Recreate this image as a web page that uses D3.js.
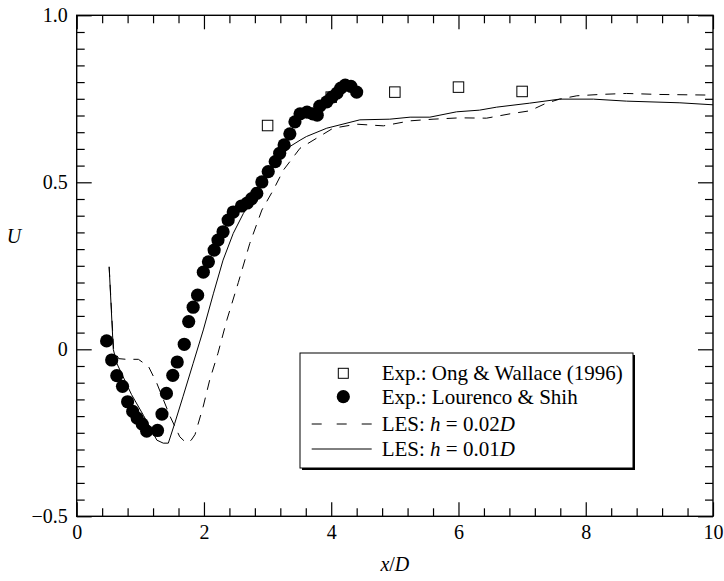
<!DOCTYPE html>
<html>
<head>
<meta charset="utf-8">
<script src="https://cdn.jsdelivr.net/npm/d3@7"></script>
<style>
  html, body { margin: 0; padding: 0; background: #fff; }
  svg { display: block; }
  text { font-family: "Liberation Serif", "Times New Roman", serif; fill: #000; }
</style>
</head>
<body>
<svg id="chart" width="724" height="581"></svg>
<script>
// Streamwise velocity U along the centreline, x/D behind the cylinder

// Exp.: Ong & Wallace (1996)
const ongX = [3, 4, 5, 6, 7];
const ongU = [0.67, 0.755, 0.77, 0.785, 0.772];

// Exp.: Lourenco & Shih
const louX = [0.47, 0.55, 0.63, 0.72, 0.80, 0.88, 0.95, 1.03, 1.10, 1.27, 1.34, 1.41, 1.51, 1.58,
              1.69, 1.76, 1.83, 1.90, 1.99, 2.07, 2.16, 2.22, 2.30, 2.38, 2.46, 2.59, 2.68, 2.75,
              2.83, 2.91, 3.01, 3.12, 3.19, 3.26, 3.35, 3.43, 3.51, 3.62, 3.71, 3.78, 3.82, 3.93,
              4.01, 4.09, 4.15, 4.22, 4.31, 4.40];
const louU = [0.025, -0.032, -0.079, -0.111, -0.157, -0.186, -0.206, -0.224, -0.245, -0.243, -0.194, -0.132, -0.078, -0.038,
              0.015, 0.083, 0.126, 0.162, 0.231, 0.262, 0.297, 0.327, 0.352, 0.387, 0.411, 0.429, 0.438, 0.451,
              0.467, 0.501, 0.532, 0.562, 0.587, 0.612, 0.645, 0.681, 0.705, 0.710, 0.705, 0.701, 0.728, 0.741,
              0.755, 0.767, 0.782, 0.791, 0.787, 0.770];

// LES: h = 0.02D
const les02X = [0.51, 0.58, 0.66, 0.78, 0.97, 1.13, 1.26, 1.47, 1.62, 1.72, 1.80, 1.86, 1.99, 2.09, 2.22,
                2.36, 2.54, 2.72, 2.91, 3.09, 3.25, 3.43, 3.51, 4.03, 4.40, 4.82, 5.24, 5.60, 6.02, 6.44,
                6.81, 7.12, 7.38, 7.59, 7.86, 8.22, 8.64, 9.16, 10.0];
const les02U = [0.247, 0.0, -0.028, -0.03, -0.03, -0.052, -0.102, -0.202, -0.262, -0.28, -0.272, -0.255, -0.17, -0.092, -0.012,
                0.088, 0.20, 0.317, 0.417, 0.477, 0.537, 0.582, 0.602, 0.662, 0.674, 0.669, 0.684, 0.689, 0.693, 0.692,
                0.705, 0.714, 0.737, 0.749, 0.759, 0.763, 0.766, 0.763, 0.761];

// LES: h = 0.01D
const les01X = [0.51, 0.575, 0.63, 0.86, 1.05, 1.26, 1.36, 1.44, 1.54, 1.67, 1.83, 1.99, 2.15, 2.30, 2.46,
                2.62, 2.80, 3.00, 3.20, 3.35, 3.51, 3.61, 3.93, 4.45, 4.92, 5.24, 5.55, 5.97, 6.33, 6.60,
                7.12, 7.59, 8.12, 8.64, 9.48, 10.0];
const les01U = [0.247, 0.0, -0.042, -0.135, -0.198, -0.272, -0.281, -0.281, -0.222, -0.142, -0.042, 0.058, 0.168, 0.267, 0.347,
                0.407, 0.46, 0.52, 0.575, 0.607, 0.626, 0.637, 0.662, 0.687, 0.689, 0.695, 0.695, 0.711, 0.716, 0.725,
                0.737, 0.749, 0.749, 0.743, 0.738, 0.732];

const xMajor = [0, 2, 4, 6, 8, 10];
const xMajorLabels = ["0", "2", "4", "6", "8", "10"];
const yMajor = [-0.5, 0, 0.5, 1.0];
const yMajorLabels = ["\u22120.5", "0", "0.5", "1.0"];

const legendItems = [
  { kind: "square", parts: [["Exp.: Ong & Wallace (1996)", false]] },
  { kind: "circle", parts: [["Exp.: Lourenco & Shih", false]] },
  { kind: "dash",   parts: [["LES: ", false], ["h", true], [" = 0.02", false], ["D", true]] },
  { kind: "solid",  parts: [["LES: ", false], ["h", true], [" = 0.01", false], ["D", true]] }
];

const svg = d3.select("#chart");
const plotL = 76.7, plotR = 713, plotT = 15.3, plotB = 516.3;
const x = d3.scaleLinear().domain([0, 10]).range([plotL, plotR]);
const y = d3.scaleLinear().domain([-0.5, 1.0]).range([plotB, plotT]);

const xMinor = d3.range(0, 10.001, 0.4).filter(v => !xMajor.some(m => Math.abs(m - v) < 1e-6));
const yMinor = d3.range(-0.5, 1.0001, 0.05).filter(v => !yMajor.some(m => Math.abs(m - v) < 1e-6));

function styleAxis(g) {
  g.select(".domain").remove();
  g.selectAll(".tick line").attr("stroke", "#000").attr("stroke-width", 1.2);
  g.selectAll(".tick text").style("font-size", "20px").style("font-family", "'Liberation Serif', serif");
}

// bottom / top axes
svg.append("g").attr("transform", `translate(0,${plotB})`)
  .call(d3.axisBottom(x).tickValues(xMajor).tickFormat((d, i) => xMajorLabels[i]).tickSize(-14).tickPadding(9))
  .call(styleAxis);
svg.append("g").attr("transform", `translate(0,${plotB})`)
  .call(d3.axisBottom(x).tickValues(xMinor).tickFormat("").tickSize(-8))
  .call(styleAxis);
svg.append("g").attr("transform", `translate(0,${plotT})`)
  .call(d3.axisTop(x).tickValues(xMajor).tickFormat("").tickSize(-14))
  .call(styleAxis);
svg.append("g").attr("transform", `translate(0,${plotT})`)
  .call(d3.axisTop(x).tickValues(xMinor).tickFormat("").tickSize(-8))
  .call(styleAxis);

// left / right axes
svg.append("g").attr("transform", `translate(${plotL},0)`)
  .call(d3.axisLeft(y).tickValues(yMajor).tickFormat((d, i) => yMajorLabels[i]).tickSize(-15).tickPadding(9))
  .call(styleAxis);
svg.append("g").attr("transform", `translate(${plotL},0)`)
  .call(d3.axisLeft(y).tickValues(yMinor).tickFormat("").tickSize(-8))
  .call(styleAxis);
svg.append("g").attr("transform", `translate(${plotR},0)`)
  .call(d3.axisRight(y).tickValues(yMajor).tickFormat("").tickSize(-15))
  .call(styleAxis);
svg.append("g").attr("transform", `translate(${plotR},0)`)
  .call(d3.axisRight(y).tickValues(yMinor).tickFormat("").tickSize(-8))
  .call(styleAxis);

// frame
svg.append("rect")
  .attr("x", plotL).attr("y", plotT)
  .attr("width", plotR - plotL).attr("height", plotB - plotT)
  .attr("fill", "none").attr("stroke", "#000").attr("stroke-width", 1.4);

// axis titles
svg.append("text").attr("x", 14).attr("y", 243)
  .attr("text-anchor", "middle").style("font-size", "20px").style("font-style", "italic").text("U");
const xt = svg.append("text").attr("x", (plotL + plotR) / 2).attr("y", 571)
  .attr("text-anchor", "middle").style("font-size", "20px");
xt.append("tspan").style("font-style", "italic").text("x");
xt.append("tspan").text("/");
xt.append("tspan").style("font-style", "italic").text("D");

// LES curves
const line = d3.line().x(d => x(d[0])).y(d => y(d[1]));
const plot = svg.append("g");
plot.append("path")
  .datum(les02X.map((v, i) => [v, les02U[i]]))
  .attr("d", line).attr("fill", "none").attr("stroke", "#000")
  .attr("stroke-width", 1).attr("stroke-dasharray", "10,8");
plot.append("path")
  .datum(les01X.map((v, i) => [v, les01U[i]]))
  .attr("d", line).attr("fill", "none").attr("stroke", "#000").attr("stroke-width", 1);

// Ong & Wallace squares
const sq = 10.5;
plot.selectAll("rect.ong")
  .data(ongX.map((v, i) => [v, ongU[i]]))
  .join("rect").attr("class", "ong")
  .attr("x", d => x(d[0]) - sq / 2).attr("y", d => y(d[1]) - sq / 2)
  .attr("width", sq).attr("height", sq)
  .attr("fill", "#fff").attr("stroke", "#000").attr("stroke-width", 1);

// Lourenco & Shih circles
plot.selectAll("circle.lou")
  .data(louX.map((v, i) => [v, louU[i]]))
  .join("circle").attr("class", "lou")
  .attr("cx", d => x(d[0])).attr("cy", d => y(d[1])).attr("r", 6.6)
  .attr("fill", "#000");

// legend
const lg = svg.append("g");
const lx = 300, ly = 353, lw = 333, lh = 115;
lg.append("rect").attr("x", lx + 2).attr("y", ly + 2).attr("width", lw).attr("height", lh).attr("fill", "#000");
lg.append("rect").attr("x", lx).attr("y", ly).attr("width", lw).attr("height", lh)
  .attr("fill", "#fff").attr("stroke", "#000").attr("stroke-width", 1);

const rowY = [373.3, 396.7, 424, 449];
legendItems.forEach((item, i) => {
  const cy = rowY[i];
  if (item.kind === "square") {
    lg.append("rect").attr("x", 343.3 - 5).attr("y", cy - 5).attr("width", 10).attr("height", 10)
      .attr("fill", "#fff").attr("stroke", "#000").attr("stroke-width", 1);
  } else if (item.kind === "circle") {
    lg.append("circle").attr("cx", 343.3).attr("cy", cy).attr("r", 6.6).attr("fill", "#000");
  } else {
    lg.append("line").attr("x1", 311.7).attr("x2", 371.7).attr("y1", cy).attr("y2", cy)
      .attr("stroke", "#000").attr("stroke-width", 1)
      .attr("stroke-dasharray", item.kind === "dash" ? "10,15" : null);
  }
  const t = lg.append("text").attr("x", 381.7).attr("y", cy + 7).style("font-size", "21px");
  item.parts.forEach(p => {
    t.append("tspan").style("font-style", p[1] ? "italic" : "normal").text(p[0]);
  });
});
</script>
</body>
</html>
